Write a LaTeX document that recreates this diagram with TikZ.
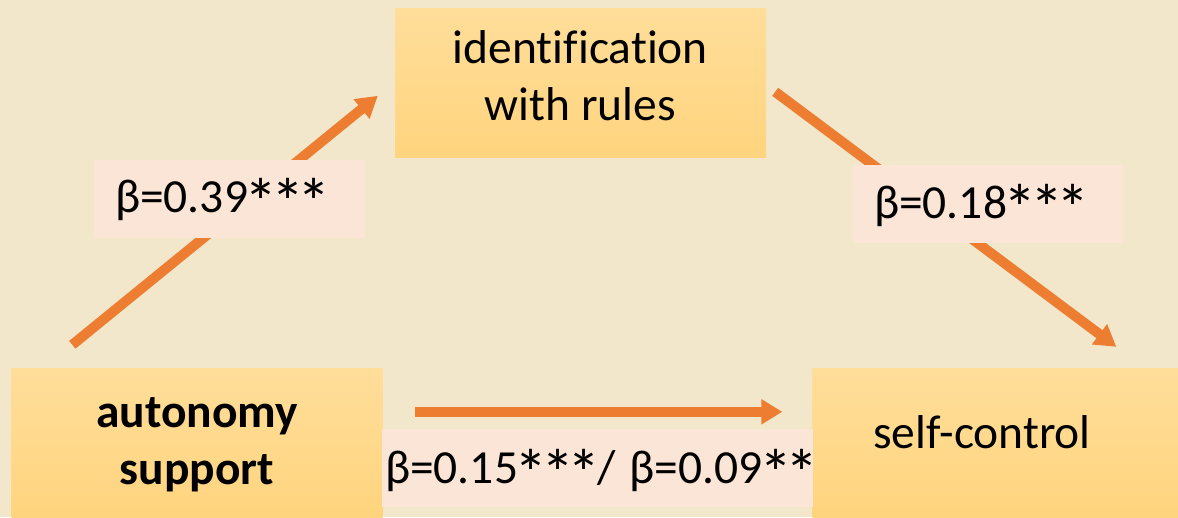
\documentclass[tikz,border=0pt]{standalone}
\usepackage{fontspec}
\setmainfont{Carlito}[Ligatures=NoCommon]
\usetikzlibrary{arrows.meta}
\definecolor{bgc}{HTML}{F2E6CB}
\definecolor{boxtop}{HTML}{FFDE9A}
\definecolor{boxbot}{HTML}{FFD47E}
\definecolor{lblfill}{HTML}{FBE5D6}
\definecolor{arrc}{HTML}{ED7D31}
\newcommand{\bigast}{\kern-0.07em\raisebox{-0.28em}{\scalebox{1.4}{*}}\kern-0.07em}
\tikzset{
  varbox/.style={rectangle, inner sep=0pt, minimum width=371, minimum height=149,
    top color=boxtop, bottom color=boxbot, draw=none, align=center,
    font=\fontsize{47.5}{57}\selectfont},
  coefbox/.style={rectangle, fill=lblfill, inner ysep=0pt, minimum height=78,
    align=left, font=\fontsize{47.5}{57}\selectfont, text height=40, text depth=12},
  patharrow/.style={draw=arrc, line width=10, -{Triangle[length=21pt,width=24pt]}}
}
\begin{document}
\begin{tikzpicture}[x=1pt,y=-1pt]
\fill[bgc] (0,0) rectangle (1178,517);
\useasboundingbox (0,0) rectangle (1178,517);

\node[varbox, text height=103, text depth=28] (ident) at (580.5,82.5) {identification\\with rules};
\node[varbox, text height=100, text depth=17, font=\bfseries\fontsize{47.5}{57}\selectfont] (auto) at (197,442.5) {autonomy\\support};
\node[varbox, text height=40, text depth=29] (self) at (998,442.5) {self-control\hspace*{32pt}};

\draw[patharrow] ([shift={(61,-23)}]auto.north west) -- ([shift={(-17,88)}]ident.north west);
\draw[patharrow] ([shift={(9,84)}]ident.north east) -- ([shift={(304,-21)}]self.north west);
\draw[patharrow] ([shift={(32,44)}]auto.north east) -- ([shift={(-30,44)}]self.north west);

\node[coefbox, inner xsep=21, text width=229] (c1) at (229.5,198.5) {\mbox{β=0.39\bigast\bigast\bigast}};
\node[coefbox, inner xsep=21, text width=228] (c2) at (988,204) {\mbox{β=0.18\bigast\bigast\bigast}};
\node[coefbox, inner xsep=3, text width=425, text height=41, text depth=11] (c3) at (597.5,468) {\mbox{β=0.15\bigast\bigast\bigast/\kern-0.05em\ β=0.09\bigast\bigast}};
\end{tikzpicture}
\end{document}
